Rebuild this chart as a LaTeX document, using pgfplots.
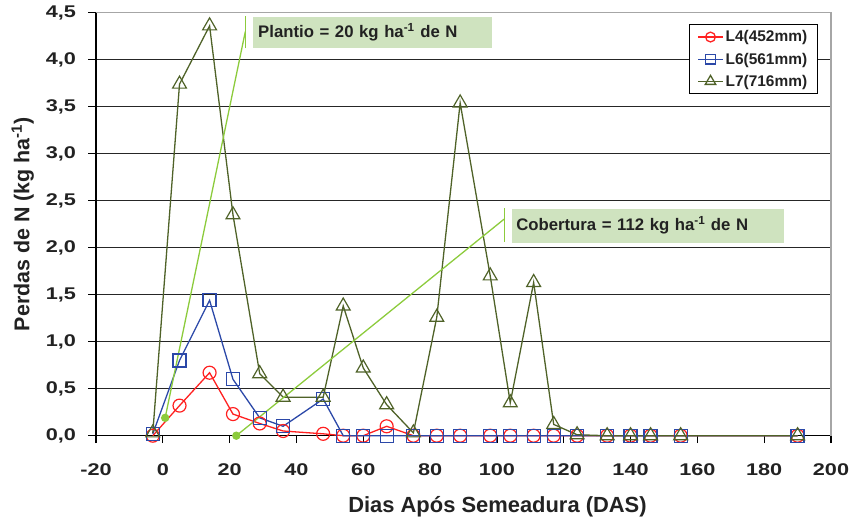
\documentclass[border=0pt]{standalone}
\usepackage{fontspec}
\setmainfont{Liberation Sans}
\newfontfamily\tickfont[FakeStretch=1.28]{Liberation Sans}
\usepackage{pgfplots}
\pgfplotsset{compat=1.18}

\definecolor{lfour}{HTML}{FF2020}
\definecolor{lsix}{HTML}{2B48A8}
\definecolor{lseven}{HTML}{4F6228}
\definecolor{callout}{HTML}{8CCB3C}
\definecolor{boxfill}{HTML}{CFE3BF}
\definecolor{txt}{HTML}{222222}

\begin{document}
\begin{tikzpicture}
\begin{axis}[
  scale only axis,
  width=735bp, height=423bp,
  xmin=-20, xmax=200, ymin=0, ymax=4.5,
  xtick={-20,0,...,200},
  ytick={0,0.5,...,4.5},
  axis x line*=bottom, axis y line*=left,
  axis line style={black, line width=1.3pt, -},
  tick align=outside,
  major tick length=7.5bp,
  tick style={black, line width=1.2pt},
  ymajorgrids=true,
  grid style={black!85, line width=1.2pt},
  /pgf/number format/assume math mode=true,
  xticklabel={\tickfont\bfseries\pgfmathprintnumber{\tick}},
  yticklabel={\tickfont\bfseries\pgfmathprintnumber[use comma, fixed, fixed zerofill, precision=1]{\tick}},
  tick label style={font=\fontsize{17}{20}\selectfont, text=txt},
  xticklabel style={yshift=-17bp},
  yticklabel style={xshift=-9bp},
  xlabel={Dias Após Semeadura (DAS)},
  ylabel={Perdas de N (kg ha\textsuperscript{-1})},
  xlabel style={font=\fontsize{22}{26}\selectfont\bfseries, text=txt, xshift=34bp, yshift=-14bp},
  ylabel style={font=\fontsize{21.5}{26}\selectfont\bfseries, text=txt, yshift=5bp},
  legend style={at={(0.982,0.973)}, anchor=north east, draw=black, line width=1.2pt,
    fill=white, font=\fontsize{15.5}{18}\selectfont\bfseries, text=txt,
    row sep=5.5bp, inner xsep=8bp, inner ysep=4bp, cells={anchor=west}},
  legend image code/.code={\draw[mark repeat=2, mark phase=2, #1, mark options={scale=0.75}]
    plot coordinates {(0bp,0bp) (12.5bp,0bp) (25bp,0bp)};},
  every axis plot/.append style={line width=1.3pt},
  clip=false,
]
% plot area frame (top and right) in grey
\addplot[gray!70, line width=1.4pt, forget plot] coordinates {(-20,4.5) (200,4.5) (200,0)};

\addplot[lfour, mark=o, mark size=6.5bp, mark options={line width=1.2pt}] coordinates {
  (-3,0.00) (5,0.32) (14,0.67) (21,0.23) (29,0.13) (36,0.05) (48,0.02) (54,0) (60,0)
  (67,0.10) (75,0) (82,0) (89,0) (98,0) (104,0) (111,0) (117,0) (124,0) (133,0)
  (140,0) (146,0) (155,0) (190,0)
};
\addplot[lsix, mark=square, mark size=6.5bp, mark options={line width=1.2pt}] coordinates {
  (-3,0.02) (5,0.80) (14,1.44) (21,0.60) (29,0.19) (36,0.10) (48,0.39) (54,0) (60,0)
  (67,0) (75,0) (82,0) (89,0) (98,0) (104,0) (111,0) (117,0) (124,0) (133,0)
  (140,0) (146,0) (155,0) (190,0)
};
\addplot[lseven, mark=triangle, mark size=8bp, mark options={line width=1.2pt}] coordinates {
  (-3,0.03) (5,3.74) (14,4.36) (21,2.35) (29,0.66) (36,0.41) (48,0.41) (54,1.38) (60,0.72)
  (67,0.33) (75,0.03) (82,1.26) (89,3.54) (98,1.70) (104,0.35) (111,1.63) (117,0.12)
  (124,0.01) (133,0) (140,0) (146,0) (155,0) (190,0)
};
\legend{L4(452mm), L6(561mm), L7(716mm)}

% callout: Plantio
\addplot[callout, line width=1.3pt, forget plot] coordinates {(0.7,0.19) (24.7,4.30)};
\addplot[callout, only marks, mark=*, mark size=3.5bp, forget plot] coordinates {(0.7,0.19)};
\addplot[callout, line width=1.3pt, forget plot] coordinates {(24.7,4.12) (24.7,4.46)};
\node[fill=boxfill, anchor=west, text width=229bp, inner xsep=5bp, minimum height=30.5bp,
  align=left, font=\fontsize{16.8}{20}\selectfont\bfseries, text=txt]
  at (axis cs:27,4.29) {Plantio = 20 kg ha\textsuperscript{-1} de N};

% callout: Cobertura
\addplot[callout, line width=1.3pt, forget plot] coordinates {(22,0.0) (102.2,2.305)};
\addplot[callout, only marks, mark=*, mark size=3.5bp, forget plot] coordinates {(22,0.0)};
\addplot[callout, line width=1.3pt, forget plot] coordinates {(102.2,2.06) (102.2,2.42)};
\node[fill=boxfill, anchor=west, text width=263bp, inner xsep=4.5bp, minimum height=34bp,
  align=left, font=\fontsize{16.8}{20}\selectfont\bfseries, text=txt]
  at (axis cs:104.4,2.235) {Cobertura = 112 kg ha\textsuperscript{-1} de N};
\end{axis}
\path (current axis.south west) ++(-96bp,-82.3bp) rectangle ++(854bp,518bp);
\end{tikzpicture}
\end{document}
